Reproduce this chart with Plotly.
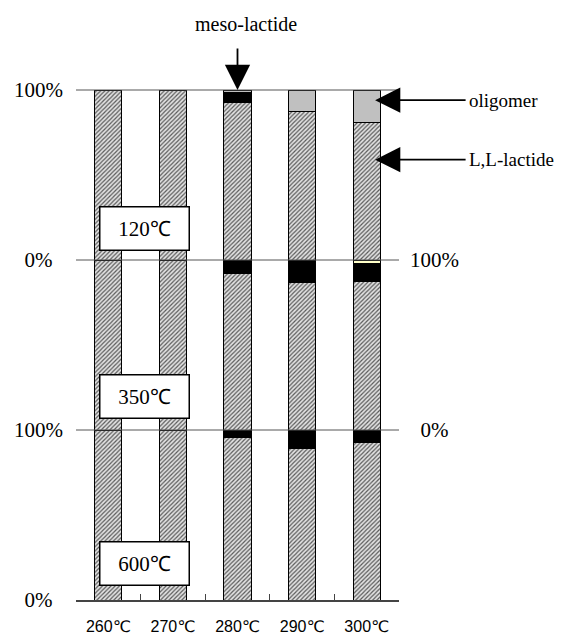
import plotly.graph_objects as go

categories = ["260℃", "270℃", "280℃", "290℃", "300℃"]

# 120°C panel
ll_120 = [100, 100, 92.5, 87.5, 81]
meso_120 = [0, 0, 6, 0, 0]
olig_120 = [0, 0, 1.5, 12.5, 19]
# 350°C panel
ll_350 = [100, 100, 92, 86.5, 87.6]
meso_350 = [0, 0, 8, 13.5, 10.4]
olig_350 = [0, 0, 0, 0, 2]
# 600°C panel
ll_600 = [100, 100, 95.3, 89.4, 92.8]
meso_600 = [0, 0, 4.7, 10.6, 7.2]
olig_600 = [0, 0, 0, 0, 0]

panels = [
    ("y", ll_120, meso_120, olig_120, "#C0C0C0"),
    ("y2", ll_350, meso_350, olig_350, "#FFFFC8"),
    ("y3", ll_600, meso_600, olig_600, "#C0C0C0"),
]

SERIF = "Liberation Serif, Times New Roman, serif"
SANS = "Liberation Sans, DejaVu Sans, sans-serif"

fig = go.Figure()
for yax, ll, meso, olig, ocol in panels:
    fig.add_trace(go.Bar(
        x=categories, y=ll, xaxis="x", yaxis=yax, width=0.42,
        marker=dict(color="#e0e0e0", line=dict(color="black", width=1),
                    pattern=dict(shape="/", fgcolor="#5a5a5a", bgcolor="#e2e2e2",
                                 size=3, solidity=0.4, fillmode="replace")),
        name="L,L-lactide", showlegend=False, hoverinfo="skip"))
    fig.add_trace(go.Bar(
        x=categories, y=meso, xaxis="x", yaxis=yax, width=0.42,
        marker=dict(color="black", line=dict(color="black", width=1)),
        name="meso-lactide", showlegend=False, hoverinfo="skip"))
    fig.add_trace(go.Bar(
        x=categories, y=olig, xaxis="x", yaxis=yax, width=0.42,
        marker=dict(color=ocol, line=dict(color="black", width=1)),
        name="oligomer", showlegend=False, hoverinfo="skip"))

ytick_font = dict(family=SERIF, size=21, color="black")
nb = "\u00a0"

fig.update_layout(
    width=561, height=636,
    margin=dict(l=76, r=162, t=90, b=36, autoexpand=False),
    paper_bgcolor="white", plot_bgcolor="white",
    barmode="stack",
    xaxis=dict(domain=[0, 1], anchor="y3", type="category",
               range=[-0.5, 4.5],
               showline=True, linecolor="#444", linewidth=1.5,
               ticks="inside", tickson="boundaries", ticklen=6,
               tickcolor="#444", tickwidth=1.2,
               tickfont=dict(family=SANS, size=16, color="black"),
               ticklabelstandoff=11, showgrid=False, zeroline=False),
    yaxis=dict(domain=[2/3, 1], range=[0, 100], anchor="x",
               tickvals=[0, 100], ticktext=["0%" + nb * 2, "100%"],
               tickfont=ytick_font, showgrid=False, zeroline=False,
               showline=False, ticks="", ticklabelstandoff=12),
    yaxis2=dict(domain=[1/3, 2/3], range=[0, 100], anchor="x", side="right",
                tickvals=[0, 100], ticktext=[nb * 2 + "0%", "100%"],
                tickfont=ytick_font, showgrid=False, zeroline=False,
                showline=False, ticks="", ticklabelstandoff=10),
    yaxis3=dict(domain=[0, 1/3], range=[0, 100], anchor="x",
                tickvals=[0, 100], ticktext=["0%" + nb * 2, "100%"],
                tickfont=ytick_font, showgrid=False, zeroline=False,
                showline=False, ticks="", ticklabelstandoff=12),
)

# horizontal panel boundary lines
for yv in [1/3, 2/3, 1]:
    fig.add_shape(type="line", xref="paper", yref="paper", x0=0, x1=1, y0=yv, y1=yv,
                  line=dict(color="#555", width=1))

# panel temperature boxes
for label, yc in [("120℃", 0.7294), ("350℃", 0.40), ("600℃", 0.0706)]:
    fig.add_annotation(text=label, xref="paper", yref="paper", x=0.2136, y=yc,
                       showarrow=False, xanchor="center", yanchor="middle",
                       width=88, height=42, bgcolor="white", bordercolor="black",
                       borderwidth=1.5, borderpad=0,
                       font=dict(family=SERIF, size=21, color="black"))

# meso-lactide arrow
fig.add_annotation(text="", x=2, y=100, xref="x", yref="y", showarrow=True,
                   ax=0, ay=-43, axref="pixel", ayref="pixel",
                   arrowhead=2, arrowsize=2.8, arrowwidth=1.8, arrowcolor="black")
fig.add_annotation(text="meso-lactide", xref="paper", yref="paper",
                   x=(246 - 76) / 323, y=(600 - 24) / 510, showarrow=False,
                   xanchor="center", yanchor="middle",
                   font=dict(family=SERIF, size=20, color="black"))

# oligomer and L,L-lactide arrows
for txt, yv in [("oligomer", 94), ("L,L-lactide", 59)]:
    fig.add_annotation(text="", x=4.13, y=yv, xref="x", yref="y", showarrow=True,
                       ax=92, ay=0, axref="pixel", ayref="pixel",
                       arrowhead=2, arrowsize=2.8, arrowwidth=1.8, arrowcolor="black")
    fig.add_annotation(text=txt, xref="paper", yref="y", x=(467 - 76) / 323, y=yv,
                       showarrow=False, xanchor="left", yanchor="middle",
                       font=dict(family=SERIF, size=19, color="black"))

fig.write_html("out.html", config={"displayModeBar": False},
               post_script="document.body.style.margin='0';document.body.style.overflow='hidden';")
